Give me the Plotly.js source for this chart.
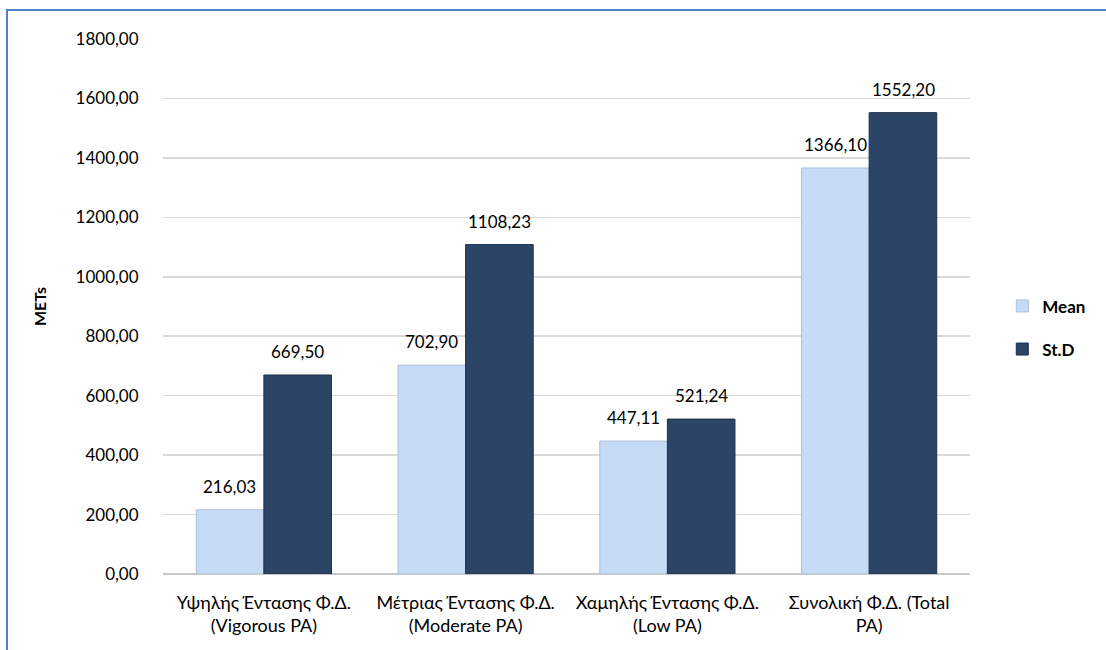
<!DOCTYPE html>
<html>
<head>
<meta charset="utf-8">
<script src="https://cdn.plot.ly/plotly-3.0.1.min.js"></script>
<style>
html,body{margin:0;padding:0;background:#fff;}
#wrap{position:relative;width:1106px;height:650px;overflow:hidden;}
#chart{position:absolute;left:0;top:0;width:1106px;height:650px;}
#frame{position:absolute;left:6px;top:9px;width:1200px;height:700px;border-left:2px solid #4f81c7;border-top:2px solid #4f81c7;pointer-events:none;}
</style>
</head>
<body>
<div id="wrap"><div id="chart"></div><div id="frame"></div></div>
<script>
const categories = [
  "Υψηλής Έντασης Φ.Δ.<br>(Vigorous PA)",
  "Μέτριας Έντασης Φ.Δ.<br>(Moderate PA)",
  "Χαμηλής Έντασης Φ.Δ.<br>(Low PA)",
  "Συνολική Φ.Δ. (Total<br>PA)"
];
const meanValues = [216.03, 702.90, 447.11, 1366.10];
const stdValues = [669.50, 1108.23, 521.24, 1552.20];
const seriesNames = ["Mean", "St.D"];
const yTicks = [0, 200, 400, 600, 800, 1000, 1200, 1400, 1600, 1800];

const font = "Lato, 'Open Sans', sans-serif";
const fsize = 17;

const traces = [
  {
    type: "bar", name: seriesNames[0], x: categories, y: meanValues,
    legendgroup: "g1",
    marker: {color: "#c5dbf6", line: {color: "#a9c0dc", width: 1}},
    hoverinfo: "y"
  },
  {
    type: "bar", name: seriesNames[1], x: categories, y: stdValues,
    legendgroup: "g2",
    marker: {color: "#2c4567", line: {color: "#1c2f4a", width: 1}},
    hoverinfo: "y"
  }
];

const fmt = v => v.toFixed(2).replace(".", ",");
const annotations = [];
[meanValues, stdValues].forEach((arr, si) => {
  arr.forEach((v, i) => {
    annotations.push({
      x: categories[i], y: v, xref: "x", yref: "y",
      xshift: si === 0 ? -34 : 34, yshift: 11,
      yanchor: "bottom", showarrow: false, text: fmt(v),
      font: {family: font, size: fsize, color: "#000"}
    });
  });
});

const layout = {
  width: 1106, height: 650,
  margin: {l: 163, r: 136, t: 39, b: 76, autoexpand: false},
  paper_bgcolor: "#fff", plot_bgcolor: "#fff",
  separators: ",.",
  barmode: "group", bargap: 0.33, bargroupgap: 0,
  font: {family: font, size: fsize, color: "#000"},
  showlegend: true,
  legend: {
    x: 1.04, y: 0.46, xanchor: "left", yanchor: "middle",
    font: {family: font, size: fsize, color: "#000", weight: "bold"},
    itemwidth: 30, tracegroupgap: 18, traceorder: "grouped"
  },
  annotations: annotations,
  xaxis: {
    type: "category", showgrid: false, showline: false, zeroline: false,
    automargin: false,
    ticks: "outside", ticklen: 12, tickcolor: "rgba(0,0,0,0)",
    tickfont: {family: font, size: 18, color: "#000"}
  },
  yaxis: {
    range: [0, 1800], tickvals: yTicks, tickformat: ".2f",
    automargin: false,
    showgrid: true, gridcolor: "#d9d9d9", gridwidth: 1.5,
    zeroline: true, zerolinecolor: "#c8c8c8", zerolinewidth: 2,
    showline: false,
    ticks: "outside", ticklen: 20, tickcolor: "rgba(0,0,0,0)",
    tickfont: {family: font, size: fsize, color: "#000"},
    title: {text: "METs", font: {family: font, size: 16, color: "#000", weight: "bold"}, standoff: 24}
  }
};

Plotly.newPlot("chart", traces, layout, {displayModeBar: false, staticPlot: true});
</script>
</body>
</html>
